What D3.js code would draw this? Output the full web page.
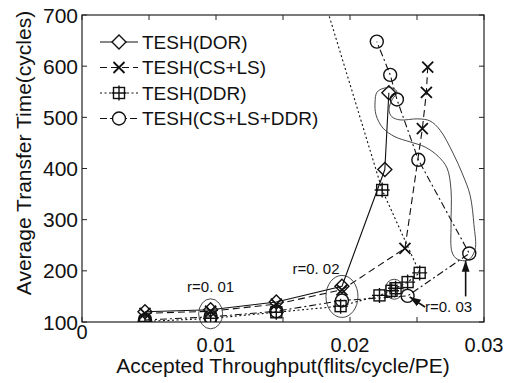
<!DOCTYPE html>
<html><head><meta charset="utf-8">
<script src="https://cdn.jsdelivr.net/npm/d3@7"></script>
<style>body{margin:0;background:#fff}svg text{font-family:"Liberation Sans",Arial,sans-serif;fill:#111}</style>
</head><body><svg id="c" width="505" height="383"></svg>
<script>
// ---------- data ----------
const seriesNames = ["TESH(DOR)", "TESH(CS+LS)", "TESH(DDR)", "TESH(CS+LS+DDR)"];
const dorX = [0.0047, 0.0096, 0.0145, 0.0194, 0.0226, 0.0229];
const dorY = [120, 124, 139, 170, 398, 548];
const cslsX = [0.0047, 0.0096, 0.0145, 0.0194, 0.0241, 0.0254, 0.0257, 0.0258];
const cslsY = [117, 121, 135, 163, 244, 478, 549, 598];
const ddrX = [0.0047, 0.0096, 0.0145, 0.0193, 0.0222, 0.0231, 0.0234, 0.0243, 0.0252, 0.0224, 0.0161];
const ddrY = [101, 107, 119, 131, 152, 161, 166, 178, 196, 358, 900];
const allX = [0.0047, 0.0096, 0.0145, 0.0194, 0.0243, 0.0289, 0.0251, 0.0235, 0.0230, 0.0220];
const allY = [104, 110, 121, 142, 151, 234, 417, 535, 583, 648];

const xTicks = [0, 0.005, 0.01, 0.015, 0.02, 0.025, 0.03];
const xTickLabels = ["0.01", "0.02", "0.03"];
const xLabelValues = [0.01, 0.02, 0.03];
const yTicks = [100, 200, 300, 400, 500, 600, 700];
const xTitle = "Accepted Throughput(flits/cycle/PE)";
const yTitle = "Average Transfer Time(cycles)";

// annotations (data units)
const ringLabels = ["r=0. 01", "r=0. 02", "r=0. 03"];
const ringCenterX = [0.0096, 0.0194, 0.0233];
const ringCenterY = [116, 150, 164];
const loopX = [0.02313,0.02351,0.02321,0.02254,0.02201,0.02187,0.02194,0.02246,0.02336,0.02448,0.0256,0.02657,0.02724,0.02754,0.02754,0.02761,0.02799,0.02881,0.02933,0.02925,0.02896,0.02843,0.02769,0.02672,0.02597,0.02507,0.02373,0.02313,0.02291];
const loopY = [534,549,557,557,549,530,505,479,462,452,442,424,401,358,290,237,223,221,241,290,348,387,430,475,493,497,495,501,514];

// ---------- layout ----------
const svg = d3.select("#c");
const L = 82, R = 484, T = 15, B = 322;
const x = d3.scaleLinear().domain([0, 0.03]).range([L, R]);
const y = d3.scaleLinear().domain([100, 700]).range([B, T]);

svg.append("defs").append("clipPath").attr("id", "clip")
  .append("rect").attr("x", L).attr("y", T).attr("width", R - L).attr("height", B - T);
const defs = svg.select("defs");
defs.append("marker").attr("id", "arr").attr("viewBox", "0 0 10 10").attr("refX", 10).attr("refY", 5)
  .attr("markerWidth", 7).attr("markerHeight", 7).attr("orient", "auto-start-reverse")
  .append("path").attr("d", "M0,1.5L10,5L0,8.5z").attr("fill", "#111");

// frame & ticks
svg.append("rect").attr("x", L).attr("y", T).attr("width", R - L).attr("height", B - T)
  .attr("fill", "none").attr("stroke", "#222").attr("stroke-width", 1.2);
const tk = 5;
const g = svg.append("g").attr("stroke", "#222").attr("stroke-width", 1);
xTicks.forEach(v => {
  g.append("line").attr("x1", x(v)).attr("x2", x(v)).attr("y1", B).attr("y2", B - tk);
  g.append("line").attr("x1", x(v)).attr("x2", x(v)).attr("y1", T).attr("y2", T + tk);
});
yTicks.forEach(v => {
  g.append("line").attr("x1", L).attr("x2", L + tk).attr("y1", y(v)).attr("y2", y(v));
  g.append("line").attr("x1", R).attr("x2", R - tk).attr("y1", y(v)).attr("y2", y(v));
});
// tick labels
xLabelValues.forEach((v, i) => {
  svg.append("text").attr("x", x(v)).attr("y", 352).attr("text-anchor", "middle")
    .attr("font-size", 20).text(xTickLabels[i]);
});
svg.append("text").attr("x", x(0)).attr("y", 339).attr("text-anchor", "middle").attr("font-size", 20).text("0");
yTicks.forEach(v => {
  svg.append("text").attr("x", 78).attr("y", y(v)).attr("dy", "0.36em").attr("text-anchor", "end")
    .attr("font-size", 21).text(v);
});
svg.append("text").attr("x", 283).attr("y", 373).attr("text-anchor", "middle").attr("font-size", 21).text(xTitle);
svg.append("text").attr("transform", "translate(31,153) rotate(-90)").attr("text-anchor", "middle")
  .attr("font-size", 21).text(yTitle);

// ---------- series ----------
const styles = [
  {dash: null, marker: "diamond"},
  {dash: "7,4", marker: "x"},
  {dash: "2,2.5", marker: "sqplus"},
  {dash: "7,3,2,3", marker: "circle"}
];
const data = [
  dorX.map((v, i) => [v, dorY[i]]),
  cslsX.map((v, i) => [v, cslsY[i]]),
  ddrX.map((v, i) => [v, ddrY[i]]),
  allX.map((v, i) => [v, allY[i]])
];
function drawMarker(sel, type, cx, cy, fill) {
  const m = sel.append("g").attr("transform", `translate(${cx},${cy})`)
    .attr("fill", fill).attr("stroke", "#111").attr("stroke-width", 1.4);
  if (type === "diamond") m.append("path").attr("d", "M0,-7L7,0L0,7L-7,0Z");
  else if (type === "x") m.append("path").attr("d", "M-5.5,-5.5L5.5,5.5M-5.5,5.5L5.5,-5.5").attr("stroke-width", 1.8);
  else if (type === "sqplus") {
    m.append("rect").attr("x", -5.5).attr("y", -5.5).attr("width", 11).attr("height", 11);
    m.append("path").attr("d", "M0,-7.5L0,7.5M-7.5,0L7.5,0");
  } else m.append("circle").attr("r", 6.5);
}
const lineGen = d3.line().x(d => x(d[0])).y(d => y(d[1]));
const plot = svg.append("g").attr("clip-path", "url(#clip)");
data.forEach((pts, i) => {
  plot.append("path").attr("d", lineGen(pts)).attr("fill", "none").attr("stroke", "#111")
    .attr("stroke-width", 1.1).attr("stroke-dasharray", styles[i].dash);
});
data.forEach((pts, i) => {
  pts.filter(d => d[1] <= 700).forEach(d => drawMarker(plot, styles[i].marker, x(d[0]), y(d[1]), "none"));
});

// ---------- annotations ----------
const ann = svg.append("g").attr("fill", "none").attr("stroke", "#333").attr("stroke-width", 0.9);
const loopPts = loopX.map((v, i) => [v, loopY[i]]);
ann.append("path").attr("d", d3.line().curve(d3.curveCatmullRomClosed).x(d => x(d[0])).y(d => y(d[1]))(loopPts));
const ringRx = [12, 16, 9], ringRy = [15, 21, 10];
ringCenterX.forEach((v, i) => {
  ann.append("ellipse").attr("cx", x(v)).attr("cy", y(ringCenterY[i])).attr("rx", ringRx[i]).attr("ry", ringRy[i]);
});
svg.append("text").attr("x", x(0.0096)).attr("y", 292).attr("text-anchor", "middle").attr("font-size", 15).text(ringLabels[0]);
svg.append("text").attr("x", x(0.0194) - 26).attr("y", 274).attr("text-anchor", "middle").attr("font-size", 15).text(ringLabels[1]);
svg.append("text").attr("x", 425).attr("y", 312).attr("font-size", 15).text(ringLabels[2]);
// arrows
svg.append("line").attr("x1", 425).attr("y1", 307).attr("x2", x(0.02445)).attr("y2", y(149))
  .attr("stroke", "#111").attr("stroke-width", 1.6).attr("marker-end", "url(#arr)");
svg.append("line").attr("x1", x(0.02863)).attr("y1", y(150)).attr("x2", x(0.02863)).attr("y2", y(220))
  .attr("stroke", "#111").attr("stroke-width", 1.6).attr("marker-end", "url(#arr)");

// ---------- legend ----------
const leg = svg.append("g");
seriesNames.forEach((name, i) => {
  const ly = 42 + i * 25.5;
  leg.append("line").attr("x1", 100).attr("x2", 138).attr("y1", ly).attr("y2", ly)
    .attr("stroke", "#111").attr("stroke-width", 1.1).attr("stroke-dasharray", styles[i].dash);
  drawMarker(leg, styles[i].marker, 119, ly, "#fff");
  leg.append("text").attr("x", 142).attr("y", ly).attr("dy", "0.36em").attr("font-size", 19).text(name);
});
</script>
</body></html>
